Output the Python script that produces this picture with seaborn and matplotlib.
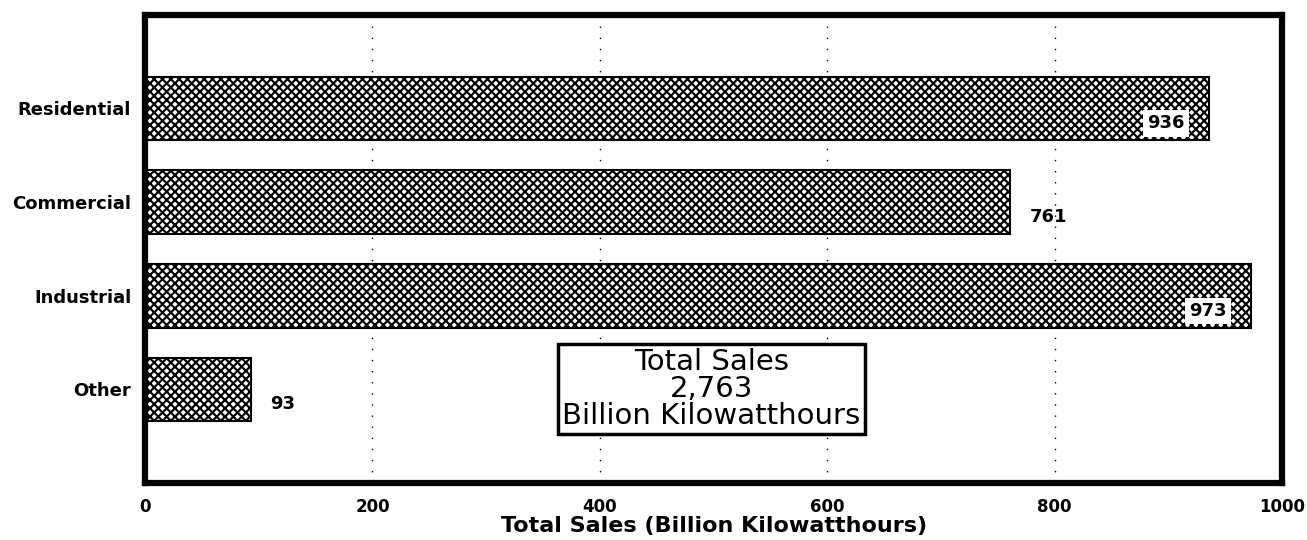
import numpy as np
import pandas as pd
import seaborn as sns
import matplotlib.pyplot as plt

# data
sectors = ['Residential', 'Commercial', 'Industrial', 'Other']
sales = [936, 761, 973, 93]
total = 2763

df = pd.DataFrame({'Sector': sectors, 'Sales': sales})

sns.set_style("white")
plt.rcParams['font.family'] = ['DejaVu Sans']
plt.rcParams['text.color'] = 'black'
plt.rcParams['xtick.color'] = 'black'
plt.rcParams['ytick.color'] = 'black'
plt.rcParams['axes.labelcolor'] = 'black'
plt.rcParams['hatch.linewidth'] = 1.55
plt.rcParams['hatch.color'] = 'black'

fig = plt.figure(figsize=(13.07, 5.4), dpi=100)
ax = fig.add_axes([0.111, 0.1056, 0.870, 0.867])

sns.barplot(x='Sales', y='Sector', data=df, orient='h', color='white',
            width=0.68, edgecolor='black', linewidth=1.5, ax=ax)
for p in ax.patches:
    p.set_hatch('xxxx')

ax.set_xlim(0, 1000)
ax.set_ylim(4.0, -1.0)
ax.set_xticks([0, 200, 400, 600, 800, 1000])
ax.grid(axis='x', linestyle=(0, (1, 7)), color='black', linewidth=1)
ax.set_axisbelow(True)
for s in ax.spines.values():
    s.set_linewidth(4.5)
    s.set_color('black')
ax.tick_params(axis='both', length=6, width=1.2, direction='out')
ax.tick_params(axis='x', pad=5, labelsize=12)
ax.tick_params(axis='y', pad=4, labelsize=13)
for lbl in ax.get_xticklabels() + ax.get_yticklabels():
    lbl.set_fontweight('bold')
ax.set_ylabel('')
ax.set_xlabel('Total Sales (Billion Kilowatthours)', fontsize=16, fontweight='bold', labelpad=0)

# value labels
for i, v in enumerate(sales):
    if v > 900:
        ax.text(v - 22, i + 0.16, str(v), ha='right', va='center', fontsize=13,
                fontweight='bold',
                bbox=dict(facecolor='white', edgecolor='none', pad=3))
    else:
        ax.text(v + 17, i + 0.16, str(v), ha='left', va='center', fontsize=13,
                fontweight='bold')

ax.text(498, 3.0, 'Total Sales\n{:,}\nBillion Kilowatthours'.format(total),
        ha='center', va='center', fontsize=21, linespacing=0.95,
        bbox=dict(facecolor='white', edgecolor='black', linewidth=2.5, pad=3))

fig.savefig('out.png', dpi=100)
